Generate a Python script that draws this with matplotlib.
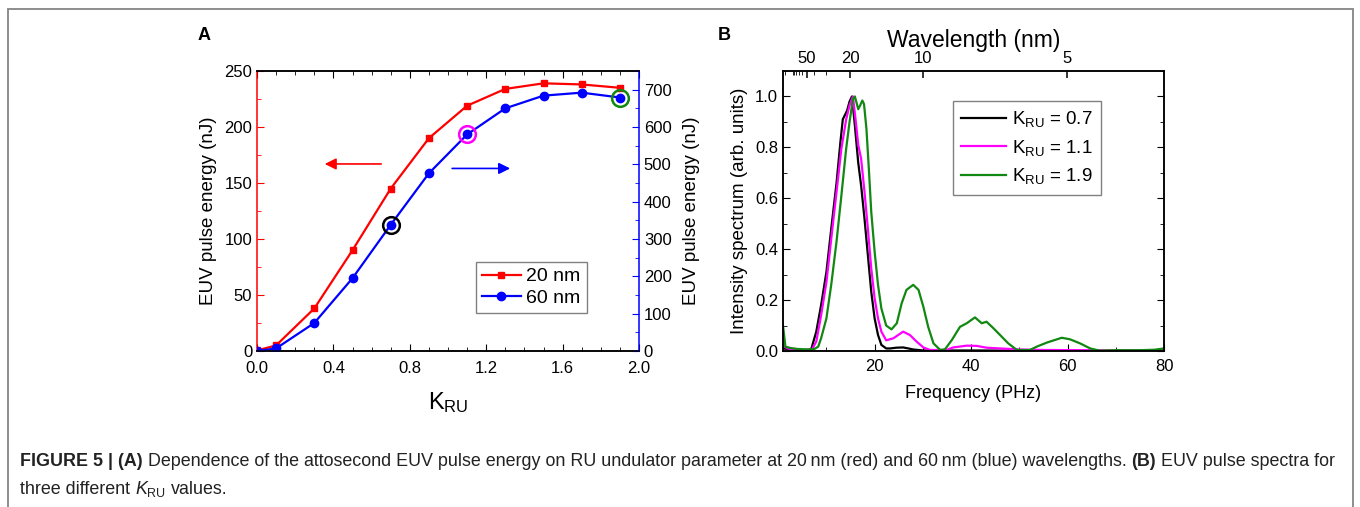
import numpy as np
import matplotlib
matplotlib.use("Agg")
import matplotlib.pyplot as plt
from matplotlib.ticker import MultipleLocator, FixedLocator
from matplotlib.patches import Rectangle

plt.rcParams['font.family'] = ['Liberation Sans', 'DejaVu Sans']
plt.rcParams['mathtext.fontset'] = 'custom'
plt.rcParams['mathtext.rm'] = 'Liberation Sans'
plt.rcParams['mathtext.it'] = 'Liberation Sans:italic'

# ---- panel A data ----
k_ru = [0.0, 0.1, 0.3, 0.5, 0.7, 0.9, 1.1, 1.3, 1.5, 1.7, 1.9]
energy_20nm = [0.5, 5, 38, 90, 145, 190, 219, 234, 239, 238, 235]
energy_60nm = [0, 7, 75, 195, 338, 476, 580, 650, 684, 692, 679]
circled_k = [0.7, 1.1, 1.9]
circle_colors = ['black', '#ff00ff', '#118811']

# ---- panel B data (frequency in PHz, normalised intensity) ----
freq_07 = [1.0, 3, 5, 6.5, 6.9, 7.9, 8.9, 10.0, 11.0, 12.1, 12.9, 13.4, 14.3, 14.8, 15.3,
           15.9, 16.6, 17.2, 17.9, 18.6, 19.3, 20.0, 20.7, 21.4, 22.4, 23.2, 24.5, 25.9,
           27.0, 28.0, 30, 40, 60, 80]
spec_07 = [0.01, 0.006, 0.004, 0.004, 0.01, 0.076, 0.18, 0.31, 0.48, 0.66, 0.82, 0.91, 0.945,
           0.98, 1.0, 0.886, 0.74, 0.65, 0.52, 0.376, 0.233, 0.128, 0.063, 0.024, 0.01, 0.01,
           0.013, 0.014, 0.01, 0.006, 0.002, 0.002, 0.001, 0.001]

freq_11 = [1.0, 2, 3, 5, 7.0, 7.9, 8.9, 10.0, 11.0, 12.1, 13.1, 14.1, 14.8, 15.5, 16.1, 16.6,
           17.2, 17.9, 18.6, 19.3, 20.0, 20.7, 21.4, 22.4, 23.9, 25.9, 27.3, 28.7, 30.1, 31.5,
           34.9, 36.3, 39.1, 41.2, 43.2, 46, 50, 55, 65, 70, 80]
spec_11 = [0.02, 0.01, 0.006, 0.004, 0.006, 0.037, 0.14, 0.27, 0.44, 0.625, 0.795, 0.91, 0.965,
           1.0, 0.90, 0.81, 0.755, 0.625, 0.48, 0.324, 0.207, 0.128, 0.076, 0.042, 0.05, 0.076,
           0.063, 0.037, 0.014, 0.004, 0.004, 0.014, 0.021, 0.02, 0.013, 0.01, 0.006, 0.004,
           0.003, 0.001, 0.001]

freq_19 = [1.0, 1.5, 2.5, 4, 6, 7.5, 8.3, 8.9, 10.0, 11.0, 12.1, 13.1, 14.1, 14.8, 15.5, 15.9,
           16.6, 17.0, 17.45, 17.8, 18.3, 18.8, 19.3, 20.0, 20.7, 21.4, 22.4, 23.5, 24.6, 25.6,
           26.6, 28.0, 29.1, 30.1, 31.1, 32.2, 33.6, 34.6, 36.0, 37.7, 39.1, 40.8, 42.2, 43.2,
           44.6, 46.0, 47.7, 49.5, 52.2, 53.6, 55.7, 58.8, 60.5, 62.6, 64.7, 66.8, 70, 75, 78, 80]
spec_19 = [0.10, 0.017, 0.012, 0.008, 0.006, 0.008, 0.017, 0.05, 0.128, 0.26, 0.43, 0.61, 0.795,
           0.9, 0.99, 1.0, 0.95, 0.965, 0.984, 0.97, 0.873, 0.716, 0.546, 0.39, 0.26, 0.167,
           0.10, 0.085, 0.109, 0.187, 0.24, 0.26, 0.24, 0.174, 0.095, 0.03, 0.004, 0.007, 0.043,
           0.095, 0.109, 0.132, 0.109, 0.115, 0.09, 0.063, 0.03, 0.004, 0.004, 0.017, 0.033,
           0.052, 0.046, 0.03, 0.01, 0.001, 0.003, 0.003, 0.005, 0.01]

wl_major = [50, 20, 10, 5]
wl_minor = [30, 40, 60, 70, 80, 90, 100, 200, 300]
C_NM_PHZ = 299.79

W, H = 1360, 507
fig = plt.figure(figsize=(W / 100, H / 100), dpi=100)

# outer frame
fig.add_artist(Rectangle((8 / W, -0.05), (1353 - 8) / W, 1.05 - 9 / H,
                         transform=fig.transFigure, fill=False,
                         edgecolor='#858585', lw=1.3))

tick_kw = dict(direction='in', labelsize=12)

# ================= panel A =================
axA = fig.add_axes([257 / W, 1 - 351 / H, 382 / W, 280 / H])
axA2 = axA.twinx()

lr, = axA.plot(k_ru, energy_20nm, '-s', color='#ff0000', ms=5, lw=1.6, label='20 nm')
lb, = axA2.plot(k_ru, energy_60nm, '-o', color='#0000ff', ms=6, lw=1.6, label='60 nm')
for k, c in zip(circled_k, circle_colors):
    axA2.plot(k, energy_60nm[k_ru.index(k)], 'o', ms=12, mfc='none', mec=c, mew=1.8)

axA.set_xlim(0, 2.0)
axA.set_ylim(0, 250)
axA2.set_ylim(0, 750)
axA.xaxis.set_major_locator(MultipleLocator(0.4))
axA.xaxis.set_minor_locator(MultipleLocator(0.1))
axA.yaxis.set_major_locator(MultipleLocator(50))
axA.yaxis.set_minor_locator(MultipleLocator(25))
axA2.yaxis.set_major_locator(MultipleLocator(100))
axA2.yaxis.set_minor_locator(MultipleLocator(50))
axA.xaxis.set_major_formatter(matplotlib.ticker.FormatStrFormatter('%.1f'))

axA.tick_params(axis='x', which='both', top=True, pad=7, **tick_kw)
axA.tick_params(axis='x', which='major', length=5)
axA.tick_params(axis='x', which='minor', length=3)
axA.tick_params(axis='y', which='both', color='#ff0000', **tick_kw)
axA.tick_params(axis='y', which='major', length=5)
axA.tick_params(axis='y', which='minor', length=3)
axA2.tick_params(axis='y', which='both', color='#0000ff', **tick_kw)
axA2.tick_params(axis='y', which='major', length=5)
axA2.tick_params(axis='y', which='minor', length=3)

axA.spines['left'].set_color('#ff0000')
axA.spines['right'].set_visible(False)
axA2.spines['left'].set_visible(False)
axA2.spines['right'].set_color('#0000ff')
for ax in (axA, axA2):
    for s in ax.spines.values():
        s.set_linewidth(1.1)

axA.set_xlabel(r'$\mathregular{K_{RU}}$', fontsize=17, labelpad=10)
axA.set_ylabel('EUV pulse energy (nJ)', fontsize=13.5, labelpad=5)
axA2.set_ylabel('EUV pulse energy (nJ)', fontsize=13.5, labelpad=8)

axA.annotate('', xy=(0.34, 167), xytext=(0.665, 167),
             arrowprops=dict(arrowstyle='-|>', color='#ff0000', lw=1.2,
                             mutation_scale=17))
axA.annotate('', xy=(1.34, 163), xytext=(1.007, 163),
             arrowprops=dict(arrowstyle='-|>', color='#0000ff', lw=1.2,
                             mutation_scale=17))

legA = axA2.legend([lr, lb], ['20 nm', '60 nm'], loc='upper left',
                   bbox_to_anchor=(0.573, 0.318), borderaxespad=0, fontsize=14,
                   handlelength=2.0, handletextpad=0.3, labelspacing=0.2,
                   borderpad=0.3, fancybox=False, edgecolor='#808080',
                   framealpha=1)
legA.get_frame().set_linewidth(1.0)

fig.text(198 / W, 1 - 36 / H, 'A', fontsize=13, fontweight='bold', va='center')

# ================= panel B =================
axB = fig.add_axes([783 / W, 1 - 351 / H, 381 / W, 280 / H])
axB.plot(freq_07, spec_07, color='black', lw=1.6, label=r'$\mathregular{K_{RU}}$ = 0.7')
axB.plot(freq_11, spec_11, color='#ff00ff', lw=1.6, label=r'$\mathregular{K_{RU}}$ = 1.1')
axB.plot(freq_19, spec_19, color='#118811', lw=1.6, label=r'$\mathregular{K_{RU}}$ = 1.9')
axB.set_xlim(1, 80)
axB.set_ylim(0, 1.1)
axB.xaxis.set_major_locator(FixedLocator([20, 40, 60, 80]))
axB.xaxis.set_minor_locator(FixedLocator([10, 30, 50, 70]))
axB.yaxis.set_major_locator(MultipleLocator(0.2))
axB.yaxis.set_minor_locator(MultipleLocator(0.1))
axB.yaxis.set_major_formatter(matplotlib.ticker.FormatStrFormatter('%.1f'))
axB.tick_params(axis='both', which='both', **tick_kw)
axB.tick_params(axis='x', which='both', pad=6)
axB.tick_params(axis='y', which='both', right=True)
axB.tick_params(which='major', length=5)
axB.tick_params(which='minor', length=3)
for s in axB.spines.values():
    s.set_linewidth(1.1)
axB.set_xlabel('Frequency (PHz)', fontsize=13, labelpad=8)
axB.set_ylabel('Intensity spectrum (arb. units)', fontsize=13.5, labelpad=5)

axB2 = axB.twiny()
axB2.set_xlim(axB.get_xlim())
axB2.xaxis.set_major_locator(FixedLocator([C_NM_PHZ / w for w in wl_major]))
axB2.xaxis.set_minor_locator(FixedLocator([C_NM_PHZ / w for w in wl_minor]))
axB2.set_xticklabels([str(w) for w in wl_major])
axB2.tick_params(axis='x', which='both', direction='in', labelsize=12)
axB2.tick_params(axis='x', which='major', length=5, width=1.1)
axB2.tick_params(axis='x', which='minor', length=3)
axB2.set_xlabel('Wavelength (nm)', fontsize=16.5, labelpad=3)
for s in axB2.spines.values():
    s.set_linewidth(1.1)

legB = axB.legend(loc='upper left', bbox_to_anchor=(0.446, 0.893), borderaxespad=0,
                  fontsize=13.5, handlelength=2.4, handletextpad=0.3, labelspacing=0.45,
                  borderpad=0.45, fancybox=False, edgecolor='#808080', framealpha=1)
legB.get_frame().set_linewidth(1.0)

fig.text(718 / W, 1 - 36 / H, 'B', fontsize=13, fontweight='bold', va='center')

# ================= caption =================
renderer = fig.canvas.get_renderer()
line1 = [('FIGURE 5 | (A)', 'bold'),
         ('Dependence of the attosecond EUV pulse energy on RU undulator parameter at '
          '20\u2009nm (red) and 60\u2009nm (blue) wavelengths.', 'normal'),
         ('(B)', 'bold'),
         ('EUV pulse spectra for', 'normal')]
line2 = [('three different', 'normal'),
         (r'$K_{\mathrm{RU}}$', 'normal'),
         ('values.', 'normal')]


def width_of(txt, size, weight):
    t = fig.text(0, 0, txt, fontsize=size, fontweight=weight)
    w = t.get_window_extent(renderer).width
    t.remove()
    return w


def draw_line(segs, y, size):
    gap = width_of('a b', size, 'normal') - width_of('ab', size, 'normal')
    x = 20
    for txt, weight in segs:
        t = fig.text(x / W, y, txt, fontsize=size, fontweight=weight,
                     color='#222222', va='baseline', ha='left')
        x += t.get_window_extent(renderer).width + gap


base = 10
total = sum(width_of(t, base, w) for t, w in line1)
total += 3 * (width_of('a b', base, 'normal') - width_of('ab', base, 'normal'))
cap_size = base * (1318 / total)
draw_line(line1, 1 - 466 / H, cap_size)
draw_line(line2, 1 - 494 / H, cap_size)

fig.savefig('out.png', dpi=100)
